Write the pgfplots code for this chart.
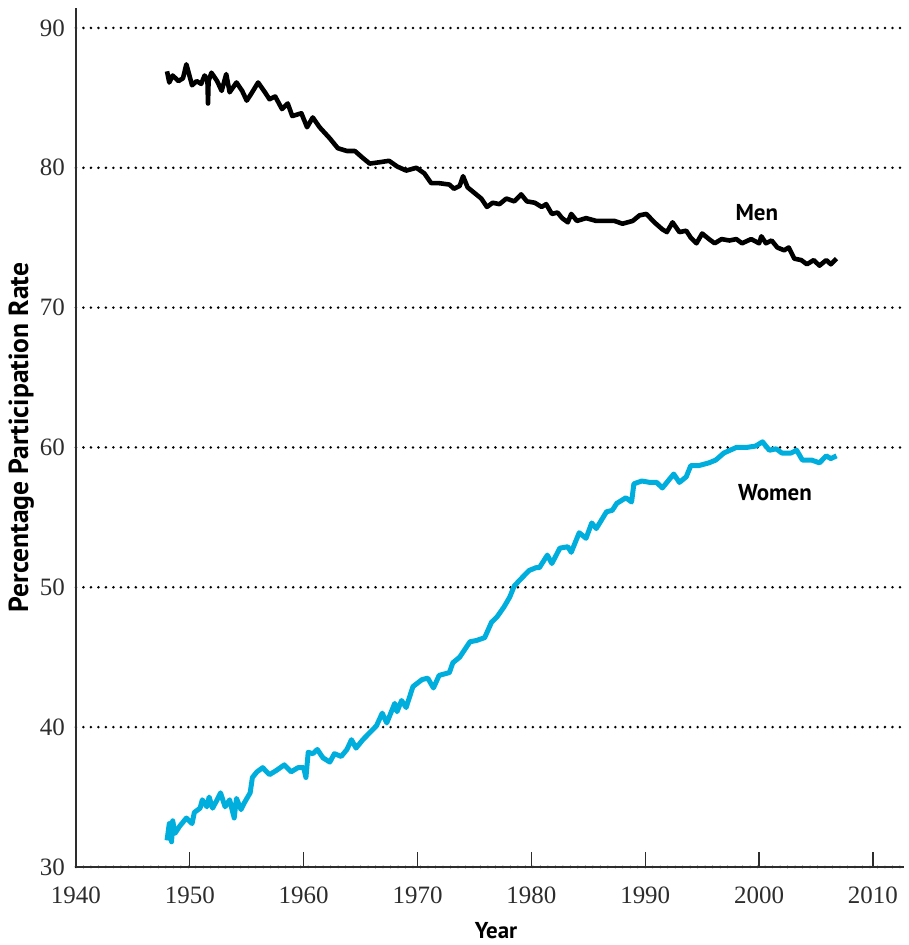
\documentclass[border=0pt]{standalone}
\usepackage{pgfplots}
\pgfplotsset{compat=1.18}
\usepackage{fontspec}
\setmainfont{Liberation Serif}
\newfontfamily\labelfont{PT Sans}

\definecolor{womencyan}{RGB}{0,174,222}
\definecolor{axisgray}{RGB}{45,45,45}

\begin{document}
\begin{tikzpicture}
\begin{axis}[
    scale only axis,
    width=414.5pt,
    height=430pt,
    xmin=1940, xmax=2012.72,
    ymin=30, ymax=91.43,
    axis lines=left,
    axis line style={-, axisgray, line width=1pt},
    xtick={1940,1950,...,2010},
    ytick={30,40,...,90},
    tick align=inside,
    major tick length=7.5pt,
    x tick style={axisgray, line width=0.7pt},
    y tick style={draw=none},
    ymajorgrids,
    major grid style={black, line width=1.4pt, line cap=round, dash pattern=on 0pt off 3.75pt},
    /pgf/number format/assume math mode=true,
    /pgf/number format/1000 sep={},
    tick label style={font=\fontsize{12.5}{14}\selectfont, text=axisgray},
    yticklabel style={xshift=-2pt},
    xticklabel style={yshift=-6.3pt},
    xlabel={Year},
    xlabel style={at={(axis cs:1976.9,30)}, anchor=north, yshift=-24pt,
        font=\labelfont\bfseries\fontsize{11.5}{13}\selectfont},
    ylabel={Percentage Participation Rate},
    ylabel style={at={(axis description cs:-0.066,0.5)}, anchor=center,
        font=\labelfont\bfseries\fontsize{13.8}{15}\selectfont},
    clip=false,
]
% Men
\addplot[black, line width=2.3pt, line join=round] coordinates {
(1948.0,86.9) (1948.2,86.1) (1948.5,86.6) (1949.0,86.2) (1949.4,86.4) (1949.7,87.4)
(1950.2,85.9) (1950.6,86.2) (1951.0,86.0) (1951.3,86.6) (1951.55,86.3) (1951.6,84.6)
(1951.65,86.2) (1951.9,86.8) (1952.4,86.2) (1952.8,85.5) (1953.2,86.7) (1953.5,85.4)
(1954.1,86.1) (1954.6,85.5) (1955.0,84.8) (1955.4,85.3) (1956.0,86.1) (1956.6,85.4)
(1957.0,84.9) (1957.5,85.1) (1958.1,84.2) (1958.6,84.6) (1959.0,83.7) (1959.8,83.9)
(1960.3,82.9) (1960.8,83.6) (1961.4,82.9) (1962.3,82.1) (1963.0,81.4) (1963.8,81.2)
(1964.5,81.2) (1965.2,80.7) (1965.8,80.3) (1966.7,80.4) (1967.5,80.5) (1968.2,80.1)
(1969.0,79.8) (1969.9,80.0) (1970.6,79.6) (1971.2,78.9) (1971.9,78.9) (1972.8,78.8)
(1973.2,78.5) (1973.7,78.7) (1974.0,79.4) (1974.4,78.6) (1975.0,78.2) (1975.6,77.8)
(1976.1,77.2) (1976.6,77.5) (1977.2,77.4) (1977.8,77.8) (1978.5,77.6) (1979.1,78.1)
(1979.6,77.6) (1980.3,77.5) (1980.9,77.2) (1981.3,77.4) (1981.8,76.7) (1982.3,76.8)
(1982.7,76.4) (1983.2,76.1) (1983.5,76.7) (1984.0,76.2) (1984.8,76.4) (1985.7,76.2)
(1986.6,76.2) (1987.3,76.2) (1988.0,76.0) (1988.9,76.2) (1989.5,76.6) (1990.1,76.7)
(1990.8,76.1) (1991.5,75.6) (1991.9,75.4) (1992.4,76.1) (1993.0,75.4) (1993.6,75.5)
(1994.0,75.0) (1994.5,74.6) (1995.0,75.3) (1995.6,74.9) (1996.1,74.6) (1996.7,74.9)
(1997.4,74.8) (1998.0,74.9) (1998.5,74.6) (1999.3,74.9) (2000.0,74.6) (2000.2,75.1)
(2000.6,74.6) (2001.1,74.8) (2001.6,74.3) (2002.2,74.1) (2002.6,74.3) (2003.1,73.5)
(2003.7,73.4) (2004.2,73.1) (2004.8,73.4) (2005.3,73.0) (2005.9,73.4) (2006.3,73.1)
(2006.8,73.5)
};
% Women
\addplot[womencyan, line width=2.5pt, line join=round] coordinates {
(1948.0,31.9) (1948.2,33.1) (1948.4,31.8) (1948.5,33.3) (1948.7,32.4) (1949.1,32.9)
(1949.7,33.5) (1950.2,33.1) (1950.4,33.9) (1950.9,34.2) (1951.1,34.8) (1951.5,34.3)
(1951.7,35.0) (1952.0,34.2) (1952.4,34.8) (1952.7,35.3) (1953.1,34.3) (1953.5,34.8)
(1953.9,33.5) (1954.1,34.9) (1954.5,34.1) (1954.8,34.6) (1955.3,35.3) (1955.5,36.4)
(1955.9,36.8) (1956.4,37.1) (1957.0,36.6) (1957.6,36.9) (1958.3,37.3) (1958.9,36.8)
(1959.5,37.1) (1960.0,37.1) (1960.2,36.4) (1960.4,38.2) (1960.8,38.1) (1961.2,38.4)
(1961.7,37.8) (1962.3,37.5) (1962.7,38.1) (1963.3,37.9) (1963.8,38.4) (1964.2,39.1)
(1964.6,38.5) (1965.2,39.1) (1965.8,39.6) (1966.4,40.1) (1966.9,41.0) (1967.3,40.3)
(1968.0,41.7) (1968.2,41.1) (1968.6,41.9) (1969.0,41.4) (1969.6,42.9) (1970.4,43.4)
(1970.9,43.5) (1971.4,42.8) (1971.9,43.7) (1972.8,43.9) (1973.1,44.6) (1973.7,45.0)
(1974.6,46.1) (1975.2,46.2) (1975.9,46.4) (1976.5,47.5) (1977.0,47.9) (1977.6,48.6)
(1978.1,49.3) (1978.5,50.1) (1979.2,50.7) (1979.8,51.2) (1980.4,51.4) (1980.7,51.4)
(1981.4,52.3) (1981.8,51.7) (1982.5,52.8) (1983.2,52.9) (1983.5,52.5) (1984.2,53.9)
(1984.8,53.5) (1985.3,54.6) (1985.7,54.2) (1986.6,55.4) (1987.1,55.5) (1987.5,56.0)
(1988.3,56.4) (1988.8,56.1) (1989.0,57.4) (1989.7,57.6) (1990.4,57.5) (1991.0,57.5)
(1991.5,57.1) (1992.3,57.9) (1992.5,58.1) (1993.0,57.5) (1993.6,57.9) (1994.0,58.7)
(1994.7,58.7) (1995.6,58.9) (1996.2,59.1) (1996.9,59.6) (1998.0,60.0) (1998.9,60.0)
(1999.7,60.1) (2000.3,60.4) (2000.9,59.8) (2001.5,59.9) (2002.0,59.6) (2002.8,59.6)
(2003.3,59.8) (2003.8,59.1) (2004.6,59.1) (2005.3,58.9) (2005.9,59.4) (2006.3,59.2)
(2006.8,59.4)
};

\node[font=\labelfont\bfseries\fontsize{11.5}{13}\selectfont] at (axis cs:1999.8,76.8) {Men};
\node[font=\labelfont\bfseries\fontsize{11.5}{13}\selectfont] at (axis cs:2001.4,56.8) {Women};

% fix the picture's outer frame to the reference proportions
\path (rel axis cs:-0.0917,-0.0895) rectangle (rel axis cs:1.00603,1.0093);
\end{axis}
\end{tikzpicture}
\end{document}
